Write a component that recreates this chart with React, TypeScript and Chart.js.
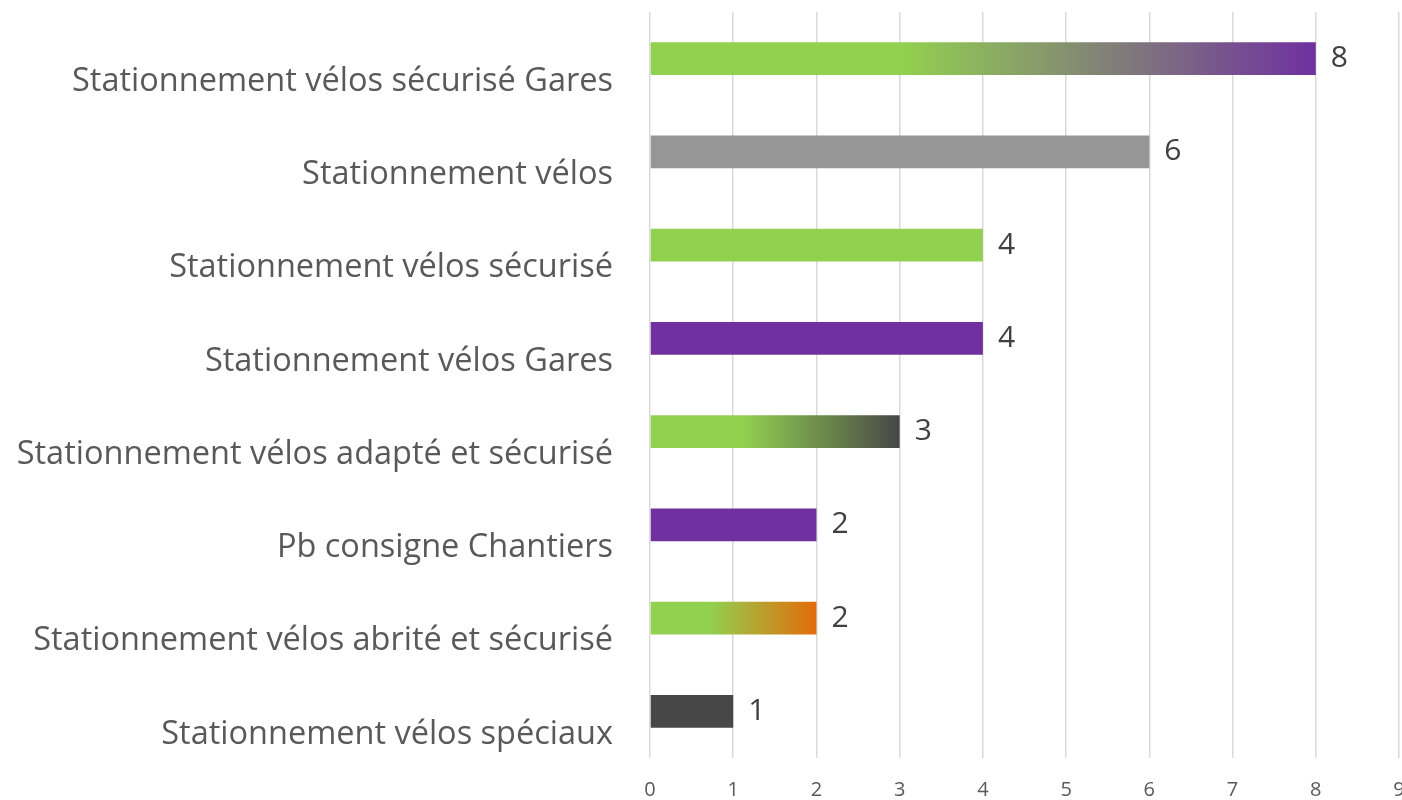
import React, { useEffect, useRef } from "react";
import { Chart, registerables } from "chart.js";

Chart.register(...registerables);

const categories = [
  "Stationnement vélos sécurisé Gares",
  "Stationnement vélos",
  "Stationnement vélos sécurisé",
  "Stationnement vélos Gares",
  "Stationnement vélos adapté et sécurisé",
  "Pb consigne Chantiers",
  "Stationnement vélos abrité et sécurisé",
  "Stationnement vélos spéciaux",
];
const values = [8, 6, 4, 4, 3, 2, 2, 1];
const xMin = 0;
const xMax = 9;
const xStep = 1;

const GREEN = "#92D050";
const PURPLE = "#7030A0";
type Fill = string | { from: string; to: string; start: number };
const barFills: Fill[] = [
  { from: GREEN, to: PURPLE, start: 0.38 },
  "#969696",
  GREEN,
  PURPLE,
  { from: GREEN, to: "#474747", start: 0.37 },
  PURPLE,
  { from: GREEN, to: "#E36C09", start: 0.36 },
  "#474747",
];

const FONT = "'Open Sans', 'Noto Sans', sans-serif";

const valueLabels = {
  id: "valueLabels",
  afterDatasetsDraw(chart: any) {
    const ctx = chart.ctx;
    const meta = chart.getDatasetMeta(0);
    ctx.save();
    ctx.font = `30px ${FONT}`;
    ctx.fillStyle = "#404040";
    ctx.textAlign = "left";
    ctx.textBaseline = "middle";
    meta.data.forEach((bar: any, i: number) => {
      ctx.fillText(String(values[i]), bar.x + 15, bar.y);
    });
    ctx.restore();
  },
};

export default function App() {
  const ref = useRef<HTMLCanvasElement | null>(null);
  useEffect(() => {
    if (!ref.current) return;
    const chart = new Chart(ref.current, {
      type: "bar",
      data: {
        labels: categories,
        datasets: [
          {
            data: values,
            barPercentage: 0.353,
            categoryPercentage: 1,
            borderWidth: 0,
            backgroundColor: (c: any) => {
              const fill = barFills[c.dataIndex];
              if (typeof fill === "string") return fill;
              const chartRef = c.chart;
              const xs = chartRef.scales && chartRef.scales.x;
              if (!chartRef.chartArea || !xs) return fill.from;
              const x0 = xs.getPixelForValue(0);
              const x1 = xs.getPixelForValue(values[c.dataIndex]);
              const g = chartRef.ctx.createLinearGradient(x0, 0, x1, 0);
              g.addColorStop(0, fill.from);
              g.addColorStop(fill.start, fill.from);
              g.addColorStop(1, fill.to);
              return g;
            },
          },
        ],
      },
      options: {
        indexAxis: "y",
        animation: false,
        responsive: true,
        maintainAspectRatio: false,
        layout: { padding: { top: 12, right: 3, left: 0, bottom: 0 } },
        plugins: {
          legend: { display: false },
          tooltip: { enabled: false },
          title: { display: false },
        },
        scales: {
          x: {
            min: xMin,
            max: xMax,
            border: { display: false },
            grid: { color: "#D9D9D9", lineWidth: 1.5, drawTicks: false },
            ticks: {
              stepSize: xStep,
              padding: 20,
              color: "#595959",
              font: { family: FONT, size: 20 },
            },
            afterFit: (s: any) => {
              s.height = 42;
              s.paddingLeft = 0;
              s.paddingRight = 0;
            },
          },
          y: {
            border: { display: false },
            grid: { display: false, drawTicks: false },
            ticks: {
              autoSkip: false,
              padding: 37,
              labelOffset: 23,
              color: "#595959",
              font: { family: FONT, size: 32.5 },
            },
            afterFit: (s: any) => {
              s.width = 650;
              s.paddingTop = 0;
              s.paddingBottom = 0;
            },
          },
        },
      },
      plugins: [valueLabels],
    });
    return () => chart.destroy();
  }, []);
  return (
    <div style={{ position: "fixed", left: 0, top: 0, width: 1402, height: 800, background: "#fff" }}>
      <canvas ref={ref} />
    </div>
  );
}
